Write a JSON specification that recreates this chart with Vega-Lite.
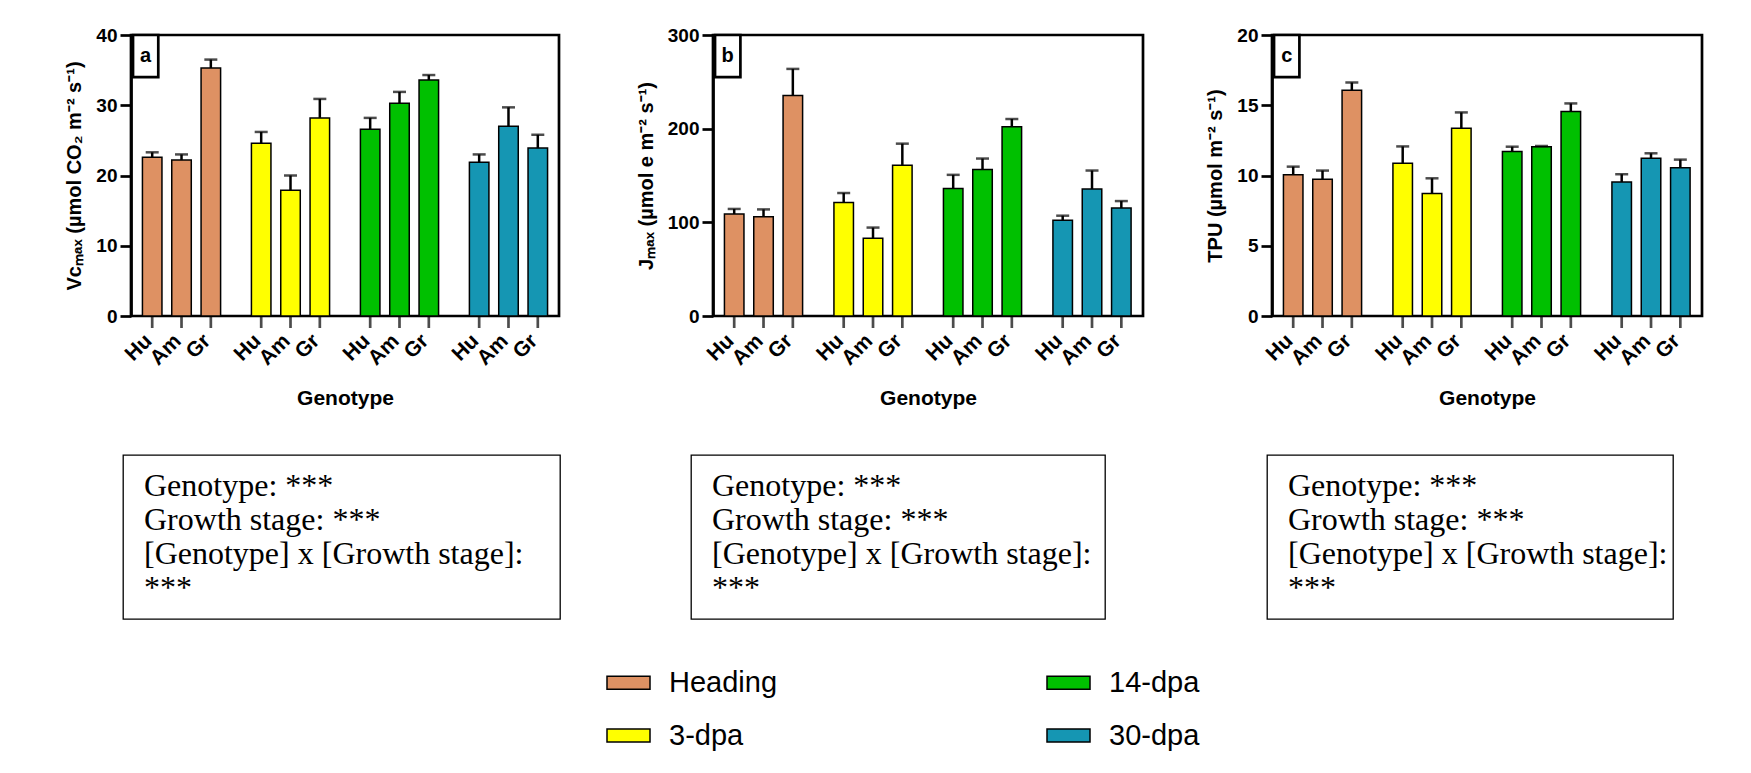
{
  "$schema": "https://vega.github.io/schema/vega-lite/v6.json",
  "background": "white",
  "padding": {"left": 63, "top": 24, "right": 0, "bottom": 0},
  "config": {
    "font": "Liberation Sans",
    "view": {"stroke": null},
    "axis": {
      "grid": false,
      "domainColor": "black",
      "tickColor": "black",
      "labelColor": "black",
      "titleColor": "black",
      "domainWidth": 2.7,
      "tickWidth": 2.7,
      "tickSize": 11,
      "labelFont": "Liberation Sans",
      "labelFontWeight": "bold",
      "labelFontSize": 19,
      "labelPadding": 3,
      "titleFont": "Liberation Sans",
      "titleFontWeight": "bold",
      "titleFontSize": 20
    }
  },
  "datasets": {
    "vcmax": [
      {"stage": "Heading", "genotype": "Hu", "mean": 22.6, "upper": 23.3},
      {"stage": "Heading", "genotype": "Am", "mean": 22.2, "upper": 23.0},
      {"stage": "Heading", "genotype": "Gr", "mean": 35.3, "upper": 36.5},
      {"stage": "3-dpa", "genotype": "Hu", "mean": 24.6, "upper": 26.2},
      {"stage": "3-dpa", "genotype": "Am", "mean": 17.9, "upper": 20.0},
      {"stage": "3-dpa", "genotype": "Gr", "mean": 28.2, "upper": 30.9},
      {"stage": "14-dpa", "genotype": "Hu", "mean": 26.6, "upper": 28.2},
      {"stage": "14-dpa", "genotype": "Am", "mean": 30.3, "upper": 31.9},
      {"stage": "14-dpa", "genotype": "Gr", "mean": 33.6, "upper": 34.3},
      {"stage": "30-dpa", "genotype": "Hu", "mean": 21.9, "upper": 23.0},
      {"stage": "30-dpa", "genotype": "Am", "mean": 27.0, "upper": 29.7},
      {"stage": "30-dpa", "genotype": "Gr", "mean": 23.9, "upper": 25.8}
    ],
    "jmax": [
      {"stage": "Heading", "genotype": "Hu", "mean": 108.9, "upper": 114.3},
      {"stage": "Heading", "genotype": "Am", "mean": 106.0, "upper": 113.8},
      {"stage": "Heading", "genotype": "Gr", "mean": 235.5, "upper": 263.8},
      {"stage": "3-dpa", "genotype": "Hu", "mean": 121.3, "upper": 131.3},
      {"stage": "3-dpa", "genotype": "Am", "mean": 83.0, "upper": 94.4},
      {"stage": "3-dpa", "genotype": "Gr", "mean": 161.0, "upper": 184.0},
      {"stage": "14-dpa", "genotype": "Hu", "mean": 136.2, "upper": 150.7},
      {"stage": "14-dpa", "genotype": "Am", "mean": 156.4, "upper": 168.1},
      {"stage": "14-dpa", "genotype": "Gr", "mean": 202.1, "upper": 210.3},
      {"stage": "30-dpa", "genotype": "Hu", "mean": 102.1, "upper": 107.1},
      {"stage": "30-dpa", "genotype": "Am", "mean": 135.5, "upper": 155.3},
      {"stage": "30-dpa", "genotype": "Gr", "mean": 115.3, "upper": 122.7}
    ],
    "tpu": [
      {"stage": "Heading", "genotype": "Hu", "mean": 10.06, "upper": 10.63},
      {"stage": "Heading", "genotype": "Am", "mean": 9.73, "upper": 10.35},
      {"stage": "Heading", "genotype": "Gr", "mean": 16.07, "upper": 16.62},
      {"stage": "3-dpa", "genotype": "Hu", "mean": 10.87, "upper": 12.07},
      {"stage": "3-dpa", "genotype": "Am", "mean": 8.71, "upper": 9.8},
      {"stage": "3-dpa", "genotype": "Gr", "mean": 13.37, "upper": 14.49},
      {"stage": "14-dpa", "genotype": "Hu", "mean": 11.7, "upper": 12.05},
      {"stage": "14-dpa", "genotype": "Am", "mean": 12.05, "upper": 12.1},
      {"stage": "14-dpa", "genotype": "Gr", "mean": 14.56, "upper": 15.13},
      {"stage": "30-dpa", "genotype": "Hu", "mean": 9.54, "upper": 10.09},
      {"stage": "30-dpa", "genotype": "Am", "mean": 11.22, "upper": 11.58},
      {"stage": "30-dpa", "genotype": "Gr", "mean": 10.56, "upper": 11.13}
    ],
    "stats": [
      {"line": 1, "txt": "Genotype: ***"},
      {"line": 2, "txt": "Growth stage: ***"},
      {"line": 3, "txt": "[Genotype] x [Growth stage]:"},
      {"line": 4, "txt": "***"}
    ]
  },
  "bounds": "flush",
  "spacing": 420,
  "vconcat": [
    {
      "bounds": "flush",
      "spacing": 7,
      "hconcat": [
        {
          "width": 1,
          "height": 281,
          "data": {"values": []},
          "mark": {"type": "point", "opacity": 0},
          "encoding": {}
        },
        {
          "bounds": "flush",
          "spacing": 154,
          "hconcat": [
            {
              "width": 428,
              "height": 281,
              "view": {"stroke": "black", "strokeWidth": 2.7},
              "data": {"name": "vcmax"},
              "layer": [
                {
                  "mark": {"type": "bar", "stroke": "black", "strokeWidth": 1.5},
                  "encoding": {
                    "x": {"field": "stage", "type": "nominal", "sort": ["Heading", "3-dpa", "14-dpa", "30-dpa"],
                          "scale": {"paddingInner": 0.073, "paddingOuter": 0},
                          "axis": {"title": "Genotype", "labels": false, "ticks": false, "domain": false, "titlePadding": 71, "titleFontSize": 21}},
                    "xOffset": {"field": "genotype", "type": "nominal", "sort": ["Hu", "Am", "Gr"],
                                "scale": {"paddingInner": 0.334, "paddingOuter": 0.39}},
                    "y": {"field": "mean", "type": "quantitative", "scale": {"domain": [0, 40], "nice": false},
                          "axis": {"values": [0, 10, 20, 30, 40], "title": "Vcₘₐₓ (µmol CO₂ m⁻² s⁻¹)", "titlePadding": 11}},
                    "color": {"field": "stage", "type": "nominal",
                              "scale": {"domain": ["Heading", "3-dpa", "14-dpa", "30-dpa"], "range": ["#DE9163", "#FFFF00", "#00C000", "#1596B3"]},
                              "legend": {"title": null, "orient": "none", "legendX": 483, "legendY": 625, "columns": 2, "columnPadding": 266, "rowPadding": 15,
                                         "symbolType": "M-1,-0.3H1V0.3H-1Z", "symbolSize": 1849, "symbolStrokeColor": "black", "symbolStrokeWidth": 1.5,
                                         "labelFont": "Liberation Sans", "labelFontSize": 29, "labelFontWeight": "normal", "labelOffset": 18, "labelColor": "black", "labelLimit": 300, "padding": 0}}
                  }
                },
                {
                  "mark": {"type": "rule", "color": "black", "strokeWidth": 2.5},
                  "encoding": {
                    "x": {"field": "stage", "type": "nominal", "sort": ["Heading", "3-dpa", "14-dpa", "30-dpa"]},
                    "xOffset": {"field": "genotype", "type": "nominal", "sort": ["Hu", "Am", "Gr"]},
                    "y": {"field": "mean", "type": "quantitative"},
                    "y2": {"field": "upper"}
                  }
                },
                {
                  "mark": {"type": "tick", "orient": "horizontal", "color": "black", "size": 13, "thickness": 2.5},
                  "encoding": {
                    "x": {"field": "stage", "type": "nominal", "sort": ["Heading", "3-dpa", "14-dpa", "30-dpa"]},
                    "xOffset": {"field": "genotype", "type": "nominal", "sort": ["Hu", "Am", "Gr"]},
                    "y": {"field": "upper", "type": "quantitative"}
                  }
                },
                {
                  "mark": {"type": "tick", "orient": "vertical", "color": "black", "size": 12, "thickness": 2.7, "yOffset": 6},
                  "encoding": {
                    "x": {"field": "stage", "type": "nominal", "sort": ["Heading", "3-dpa", "14-dpa", "30-dpa"]},
                    "xOffset": {"field": "genotype", "type": "nominal", "sort": ["Hu", "Am", "Gr"]},
                    "y": {"datum": 0}
                  }
                },
                {
                  "mark": {"type": "text", "angle": 315, "align": "right", "baseline": "middle", "dx": -18, "dy": 13.1, "fontSize": 21, "fontWeight": "bold", "color": "black"},
                  "encoding": {
                    "x": {"field": "stage", "type": "nominal", "sort": ["Heading", "3-dpa", "14-dpa", "30-dpa"]},
                    "xOffset": {"field": "genotype", "type": "nominal", "sort": ["Hu", "Am", "Gr"]},
                    "y": {"datum": 0},
                    "text": {"field": "genotype"}
                  }
                },
                {
                  "data": {"values": [{"tag": "a"}]},
                  "mark": {"type": "rect", "fill": "white", "stroke": "black", "strokeWidth": 2.7},
                  "encoding": {
                    "x": {"datum": "Heading", "bandPosition": 0.02},
                    "x2": {"datum": "Heading", "bandPosition": 0.27},
                    "y": {"datum": 40},
                    "y2": {"datum": 34}
                  }
                },
                {
                  "data": {"values": [{"tag": "a"}]},
                  "mark": {"type": "text", "fontSize": 20, "fontWeight": "bold", "color": "black"},
                  "encoding": {
                    "x": {"datum": "Heading", "bandPosition": 0.145},
                    "y": {"datum": 37},
                    "text": {"field": "tag"}
                  }
                }
              ]
            },
            {
              "bounds": "flush",
              "spacing": 129,
              "hconcat": [
                {
                  "width": 430,
                  "height": 281,
                  "view": {"stroke": "black", "strokeWidth": 2.7},
                  "data": {"name": "jmax"},
                  "layer": [
                    {
                      "mark": {"type": "bar", "stroke": "black", "strokeWidth": 1.5},
                      "encoding": {
                        "x": {"field": "stage", "type": "nominal", "sort": ["Heading", "3-dpa", "14-dpa", "30-dpa"],
                              "scale": {"paddingInner": 0.073, "paddingOuter": 0},
                              "axis": {"title": "Genotype", "labels": false, "ticks": false, "domain": false, "titlePadding": 71, "titleFontSize": 21}},
                        "xOffset": {"field": "genotype", "type": "nominal", "sort": ["Hu", "Am", "Gr"],
                                    "scale": {"paddingInner": 0.334, "paddingOuter": 0.39}},
                        "y": {"field": "mean", "type": "quantitative", "scale": {"domain": [0, 300], "nice": false},
                              "axis": {"values": [0, 100, 200, 300], "title": "Jₘₐₓ (µmol e m⁻² s⁻¹)", "titlePadding": 11}},
                        "color": {"field": "stage", "type": "nominal",
                                  "scale": {"domain": ["Heading", "3-dpa", "14-dpa", "30-dpa"], "range": ["#DE9163", "#FFFF00", "#00C000", "#1596B3"]},
                                  "legend": {"title": null, "orient": "none", "legendX": 483, "legendY": 625, "columns": 2, "columnPadding": 266, "rowPadding": 15,
                                             "symbolType": "M-1,-0.3H1V0.3H-1Z", "symbolSize": 1849, "symbolStrokeColor": "black", "symbolStrokeWidth": 1.5,
                                             "labelFont": "Liberation Sans", "labelFontSize": 29, "labelFontWeight": "normal", "labelOffset": 18, "labelColor": "black", "labelLimit": 300, "padding": 0}}
                      }
                    },
                    {
                      "mark": {"type": "rule", "color": "black", "strokeWidth": 2.5},
                      "encoding": {
                        "x": {"field": "stage", "type": "nominal", "sort": ["Heading", "3-dpa", "14-dpa", "30-dpa"]},
                        "xOffset": {"field": "genotype", "type": "nominal", "sort": ["Hu", "Am", "Gr"]},
                        "y": {"field": "mean", "type": "quantitative"},
                        "y2": {"field": "upper"}
                      }
                    },
                    {
                      "mark": {"type": "tick", "orient": "horizontal", "color": "black", "size": 13, "thickness": 2.5},
                      "encoding": {
                        "x": {"field": "stage", "type": "nominal", "sort": ["Heading", "3-dpa", "14-dpa", "30-dpa"]},
                        "xOffset": {"field": "genotype", "type": "nominal", "sort": ["Hu", "Am", "Gr"]},
                        "y": {"field": "upper", "type": "quantitative"}
                      }
                    },
                    {
                      "mark": {"type": "tick", "orient": "vertical", "color": "black", "size": 12, "thickness": 2.7, "yOffset": 6},
                      "encoding": {
                        "x": {"field": "stage", "type": "nominal", "sort": ["Heading", "3-dpa", "14-dpa", "30-dpa"]},
                        "xOffset": {"field": "genotype", "type": "nominal", "sort": ["Hu", "Am", "Gr"]},
                        "y": {"datum": 0}
                      }
                    },
                    {
                      "mark": {"type": "text", "angle": 315, "align": "right", "baseline": "middle", "dx": -18, "dy": 13.1, "fontSize": 21, "fontWeight": "bold", "color": "black"},
                      "encoding": {
                        "x": {"field": "stage", "type": "nominal", "sort": ["Heading", "3-dpa", "14-dpa", "30-dpa"]},
                        "xOffset": {"field": "genotype", "type": "nominal", "sort": ["Hu", "Am", "Gr"]},
                        "y": {"datum": 0},
                        "text": {"field": "genotype"}
                      }
                    },
                    {
                      "data": {"values": [{"tag": "b"}]},
                      "mark": {"type": "rect", "fill": "white", "stroke": "black", "strokeWidth": 2.7},
                      "encoding": {
                        "x": {"datum": "Heading", "bandPosition": 0.02},
                        "x2": {"datum": "Heading", "bandPosition": 0.27},
                        "y": {"datum": 300},
                        "y2": {"datum": 255}
                      }
                    },
                    {
                      "data": {"values": [{"tag": "b"}]},
                      "mark": {"type": "text", "fontSize": 20, "fontWeight": "bold", "color": "black"},
                      "encoding": {
                        "x": {"datum": "Heading", "bandPosition": 0.145},
                        "y": {"datum": 277.5},
                        "text": {"field": "tag"}
                      }
                    }
                  ]
                },
                {
                  "width": 430,
                  "height": 281,
                  "view": {"stroke": "black", "strokeWidth": 2.7},
                  "data": {"name": "tpu"},
                  "layer": [
                    {
                      "mark": {"type": "bar", "stroke": "black", "strokeWidth": 1.5},
                      "encoding": {
                        "x": {"field": "stage", "type": "nominal", "sort": ["Heading", "3-dpa", "14-dpa", "30-dpa"],
                              "scale": {"paddingInner": 0.073, "paddingOuter": 0},
                              "axis": {"title": "Genotype", "labels": false, "ticks": false, "domain": false, "titlePadding": 71, "titleFontSize": 21}},
                        "xOffset": {"field": "genotype", "type": "nominal", "sort": ["Hu", "Am", "Gr"],
                                    "scale": {"paddingInner": 0.334, "paddingOuter": 0.39}},
                        "y": {"field": "mean", "type": "quantitative", "scale": {"domain": [0, 20], "nice": false},
                              "axis": {"values": [0, 5, 10, 15, 20], "title": "TPU (µmol m⁻² s⁻¹)", "titlePadding": 11}},
                        "color": {"field": "stage", "type": "nominal",
                                  "scale": {"domain": ["Heading", "3-dpa", "14-dpa", "30-dpa"], "range": ["#DE9163", "#FFFF00", "#00C000", "#1596B3"]},
                                  "legend": {"title": null, "orient": "none", "legendX": 483, "legendY": 625, "columns": 2, "columnPadding": 266, "rowPadding": 15,
                                             "symbolType": "M-1,-0.3H1V0.3H-1Z", "symbolSize": 1849, "symbolStrokeColor": "black", "symbolStrokeWidth": 1.5,
                                             "labelFont": "Liberation Sans", "labelFontSize": 29, "labelFontWeight": "normal", "labelOffset": 18, "labelColor": "black", "labelLimit": 300, "padding": 0}}
                      }
                    },
                    {
                      "mark": {"type": "rule", "color": "black", "strokeWidth": 2.5},
                      "encoding": {
                        "x": {"field": "stage", "type": "nominal", "sort": ["Heading", "3-dpa", "14-dpa", "30-dpa"]},
                        "xOffset": {"field": "genotype", "type": "nominal", "sort": ["Hu", "Am", "Gr"]},
                        "y": {"field": "mean", "type": "quantitative"},
                        "y2": {"field": "upper"}
                      }
                    },
                    {
                      "mark": {"type": "tick", "orient": "horizontal", "color": "black", "size": 13, "thickness": 2.5},
                      "encoding": {
                        "x": {"field": "stage", "type": "nominal", "sort": ["Heading", "3-dpa", "14-dpa", "30-dpa"]},
                        "xOffset": {"field": "genotype", "type": "nominal", "sort": ["Hu", "Am", "Gr"]},
                        "y": {"field": "upper", "type": "quantitative"}
                      }
                    },
                    {
                      "mark": {"type": "tick", "orient": "vertical", "color": "black", "size": 12, "thickness": 2.7, "yOffset": 6},
                      "encoding": {
                        "x": {"field": "stage", "type": "nominal", "sort": ["Heading", "3-dpa", "14-dpa", "30-dpa"]},
                        "xOffset": {"field": "genotype", "type": "nominal", "sort": ["Hu", "Am", "Gr"]},
                        "y": {"datum": 0}
                      }
                    },
                    {
                      "mark": {"type": "text", "angle": 315, "align": "right", "baseline": "middle", "dx": -18, "dy": 13.1, "fontSize": 21, "fontWeight": "bold", "color": "black"},
                      "encoding": {
                        "x": {"field": "stage", "type": "nominal", "sort": ["Heading", "3-dpa", "14-dpa", "30-dpa"]},
                        "xOffset": {"field": "genotype", "type": "nominal", "sort": ["Hu", "Am", "Gr"]},
                        "y": {"datum": 0},
                        "text": {"field": "genotype"}
                      }
                    },
                    {
                      "data": {"values": [{"tag": "c"}]},
                      "mark": {"type": "rect", "fill": "white", "stroke": "black", "strokeWidth": 2.7},
                      "encoding": {
                        "x": {"datum": "Heading", "bandPosition": 0.02},
                        "x2": {"datum": "Heading", "bandPosition": 0.27},
                        "y": {"datum": 20},
                        "y2": {"datum": 17}
                      }
                    },
                    {
                      "data": {"values": [{"tag": "c"}]},
                      "mark": {"type": "text", "fontSize": 20, "fontWeight": "bold", "color": "black"},
                      "encoding": {
                        "x": {"datum": "Heading", "bandPosition": 0.145},
                        "y": {"datum": 18.5},
                        "text": {"field": "tag"}
                      }
                    }
                  ]
                }
              ]
            }
          ]
        }
      ]
    },
    {
      "bounds": "flush",
      "spacing": 131,
      "hconcat": [
        {
          "width": 437,
          "height": 164,
          "view": {"stroke": "black", "strokeWidth": 1.3},
          "data": {"name": "stats"},
          "mark": {"type": "text", "align": "left", "baseline": "middle", "font": "Liberation Serif", "fontSize": 32, "color": "black", "dx": 21},
          "encoding": {
            "x": {"datum": 0, "type": "quantitative", "scale": {"domain": [0, 1]}, "axis": null},
            "y": {"field": "line", "type": "ordinal", "scale": {"type": "point", "padding": 0.93}, "axis": null},
            "text": {"field": "txt"}
          }
        },
        {
          "bounds": "flush",
          "spacing": 162,
          "hconcat": [
            {
              "width": 414,
              "height": 164,
              "view": {"stroke": "black", "strokeWidth": 1.3},
              "data": {"name": "stats"},
              "mark": {"type": "text", "align": "left", "baseline": "middle", "font": "Liberation Serif", "fontSize": 32, "color": "black", "dx": 21},
              "encoding": {
                "x": {"datum": 0, "type": "quantitative", "scale": {"domain": [0, 1]}, "axis": null},
                "y": {"field": "line", "type": "ordinal", "scale": {"type": "point", "padding": 0.93}, "axis": null},
                "text": {"field": "txt"}
              }
            },
            {
              "width": 406,
              "height": 164,
              "view": {"stroke": "black", "strokeWidth": 1.3},
              "data": {"name": "stats"},
              "mark": {"type": "text", "align": "left", "baseline": "middle", "font": "Liberation Serif", "fontSize": 32, "color": "black", "dx": 21},
              "encoding": {
                "x": {"datum": 0, "type": "quantitative", "scale": {"domain": [0, 1]}, "axis": null},
                "y": {"field": "line", "type": "ordinal", "scale": {"type": "point", "padding": 0.93}, "axis": null},
                "text": {"field": "txt"}
              }
            }
          ]
        }
      ]
    }
  ]
}
